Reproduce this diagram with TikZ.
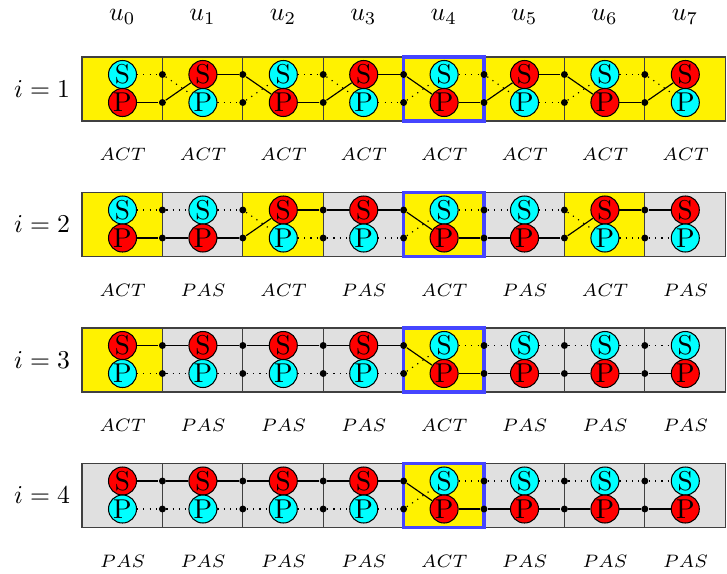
\documentclass[tikz,border=0pt]{standalone}
\newcommand\lbltypeI{ACT}
\newcommand\lbltypeO{PAS}
\definecolor{stcyan}{rgb}{0,1,1}
\definecolor{stred}{rgb}{1,0,0}
\definecolor{hiblue}{rgb}{0.27,0.27,1}
\begin{document}
\begin{tikzpicture}[x=0.389pt,y=-0.389pt,
  cellI/.style={fill=yellow,draw=black!75,line width=0.45pt},
  cellO/.style={fill=black!12,draw=black!75,line width=0.45pt},
  ball/.style={circle,draw=black,line width=0.4pt,inner sep=0pt,minimum size=10.9pt,font=\fontsize{10.6}{12}\selectfont},
  ballr/.style={ball,fill=stred},
  ballc/.style={ball,fill=stcyan},
  junct/.style={circle,fill=black,inner sep=0pt,minimum size=2.7pt},
  wirer/.style={line width=0.45pt},
  wirec/.style={line width=0.45pt,dotted},
  hilite/.style={draw=hiblue,line width=1.2pt},
  lbl/.style={font=\scriptsize}
]
\useasboundingbox (0,0) rectangle (727,573);

% column headers
\foreach \j in {0,...,7}
  \node (u\j) at (122.2+80.4*\j,17) {$u_{\j}$};

% rows: each cell is type (1 = ACT, 0 = PAS) / colour of S / colour of P
\foreach \r/\cells in {
  1/{1/c/r,1/r/c,1/c/r,1/r/c,1/c/r,1/r/c,1/c/r,1/r/c},
  2/{1/c/r,0/c/r,1/r/c,0/r/c,1/c/r,0/c/r,1/r/c,0/r/c},
  3/{1/r/c,0/r/c,0/r/c,0/r/c,1/c/r,0/c/r,0/c/r,0/c/r},
  4/{0/r/c,0/r/c,0/r/c,0/r/c,1/c/r,0/c/r,0/c/r,0/c/r}}{
  \pgfmathsetmacro{\rowtop}{57+135.5*(\r-1)}
  \node (i\r) at (42,\rowtop+32) {$i=\r$};
  % cell backgrounds and labels
  \foreach \t/\s/\p [count=\j from 0] in \cells {
    \ifnum\t=1 \def\cellkind{cellI}\def\cellword{\lbltypeI}%
    \else \def\cellkind{cellO}\def\cellword{\lbltypeO}\fi
    \draw[\cellkind] (82+80.4*\j,\rowtop) rectangle ++(80.4,64);
    \node[lbl] (l-\r-\j) at (122.7+80.4*\j,\rowtop+97.5) {$\cellword$};
  }
  % highlighted column
  \draw[hilite] (403.6,\rowtop) rectangle (484,\rowtop+64);
  % states and junctions
  \foreach \t/\s/\p [count=\j from 0] in \cells {
    \node[ball\s] (s-\r-\j) at (122.5+80.4*\j,\rowtop+17.5) {S};
    \node[ball\p] (p-\r-\j) at (122.5+80.4*\j,\rowtop+45.5) {P};
    \ifnum\j>0
      \node[junct] (t-\r-\j) at (82+80.4*\j,\rowtop+17.5) {};
      \node[junct] (b-\r-\j) at (82+80.4*\j,\rowtop+45.5) {};
    \fi
  }
  % wires
  \foreach \t/\s/\p [count=\j from 0] in \cells {
    \pgfmathtruncatemacro{\jn}{\j+1}
    \ifnum\j<7
      \draw[wire\s] (s-\r-\j) -- (t-\r-\jn);
      \draw[wire\p] (p-\r-\j) -- (b-\r-\jn);
    \fi
    \ifnum\j>0
      \ifnum\t=1
        \draw[wire\p] (t-\r-\j) -- (p-\r-\j);
        \draw[wire\s] (b-\r-\j) -- (s-\r-\j);
      \else
        \draw[wire\s] (t-\r-\j) -- (s-\r-\j);
        \draw[wire\p] (b-\r-\j) -- (p-\r-\j);
      \fi
    \fi
  }
}
\end{tikzpicture}
\end{document}
